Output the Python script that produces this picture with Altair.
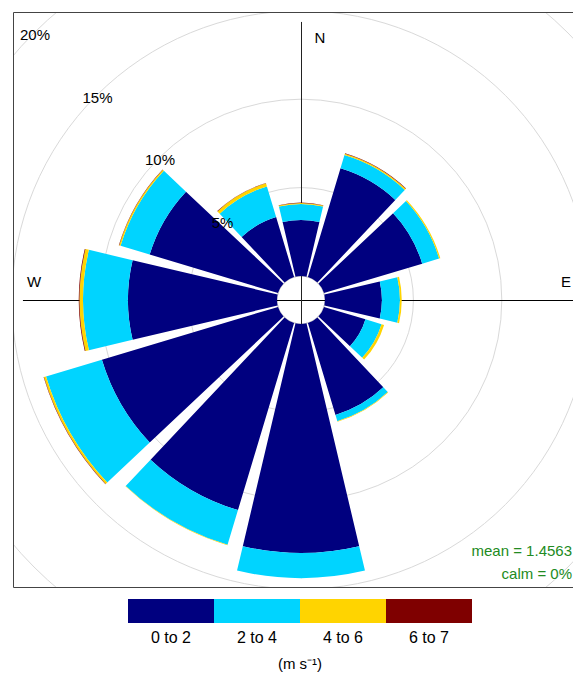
import math
import altair as alt
import pandas as pd

# ---------------- data ----------------
directions = [0, 30, 60, 90, 120, 150, 180, 210, 240, 270, 300, 330]
band_labels = ["0 to 2", "2 to 4", "4 to 6", "6 to 7"]
band_colors = ["#00007F", "#00D4FF", "#FFD400", "#7F0000"]
speed_0_2 = [3.17, 6.42, 5.80, 3.22, 2.45, 5.43, 12.95, 11.05, 10.40, 8.43, 7.58, 3.54]
speed_2_4 = [0.90, 0.78, 1.00, 1.02, 0.95, 0.37, 1.42, 2.05, 3.30, 2.54, 1.72, 1.81]
speed_4_6 = [0.06, 0.08, 0.07, 0.10, 0.15, 0.03, 0.00, 0.02, 0.12, 0.20, 0.08, 0.18]
speed_6_7 = [0.02, 0.03, 0.00, 0.00, 0.00, 0.00, 0.00, 0.00, 0.02, 0.04, 0.02, 0.02]
ring_values = [5, 10, 15, 20]
ring_labels = ["5%", "10%", "15%", "20%"]
mean_text = "mean = 1.4563"
calm_text = "calm = 0%"
unit_label = "(m s⁻¹)"

# ---------------- layout ----------------
W, H = 560, 575
CX, CY = 288, 288
HALF = 13.3                     # half angular width of a wedge (deg)
R0, K = 24, 17.68               # hole radius (px) and px per percent
FONT = "Liberation Sans"

theta_scale = alt.Scale(domain=[0, 360], range=[0, 2 * math.pi])
radius_scale = alt.Scale(type="linear", domain=[0, 20], range=[R0, R0 + K * 20], zero=False)

bands = [speed_0_2, speed_2_4, speed_4_6, speed_6_7]
rows = []
for j, d in enumerate(directions):
    cum = 0.0
    for b, lab in enumerate(band_labels):
        v = bands[b][j]
        if v > 0:
            rows.append({"dir": d, "band": lab, "t1": d - HALF, "t2": d + HALF,
                         "r1": cum, "r2": cum + v})
        cum += v
wedges_df = pd.DataFrame(rows)
max_total = max(sum(b[j] for b in bands) for j in range(len(directions)))

color_scale = alt.Scale(domain=band_labels, range=band_colors)

rings = alt.Chart(pd.DataFrame({"r": ring_values})).mark_arc(
    filled=False, stroke="#d9d9d9", strokeWidth=1, clip=True
).encode(
    theta=alt.value(0), theta2=alt.value(2 * math.pi),
    radius=alt.Radius("r:Q", scale=radius_scale, stack=None),
    x=alt.value(CX), y=alt.value(CY),
)

L = R0 + K * max_total
one = pd.DataFrame({"a": [0]})
hline = alt.Chart(one).mark_rule(color="black", strokeWidth=1).encode(
    x=alt.value(CX - L), x2=alt.value(CX + L), y=alt.value(CY + 0.5))
vline = alt.Chart(one).mark_rule(color="#222", strokeWidth=1).encode(
    x=alt.value(CX + 0.5), y=alt.value(CY - L), y2=alt.value(CY + L))

wedges = alt.Chart(wedges_df).mark_arc().encode(
    theta=alt.Theta("t1:Q", scale=theta_scale, stack=None),
    theta2="t2:Q",
    radius=alt.Radius("r1:Q", scale=radius_scale, stack=None),
    radius2="r2:Q",
    color=alt.Color("band:N", scale=color_scale, legend=None),
    x=alt.value(CX), y=alt.value(CY),
)

ring_text = alt.Chart(pd.DataFrame({"r": ring_values, "label": ring_labels, "t": [315] * 4})).mark_text(
    font=FONT, fontSize=15, color="black", align="center", baseline="middle", dx=1, dy=2
).encode(
    theta=alt.Theta("t:Q", scale=theta_scale, stack=None),
    radius=alt.Radius("r:Q", scale=radius_scale, stack=None),
    text="label:N",
    x=alt.value(CX), y=alt.value(CY),
)

def label(txt, x, y, size=15, color="black", align="center"):
    return alt.Chart(pd.DataFrame({"t": [txt]})).mark_text(
        font=FONT, fontSize=size, color=color, align=align, baseline="middle"
    ).encode(text="t:N", x=alt.value(x), y=alt.value(y))

compass = [label("N", 307, 26), label("E", 553, 270), label("W", 21, 270)]
stats = [label(mean_text, 559, 539, 15, "#228B22", "right"),
         label(calm_text, 559, 562, 15, "#228B22", "right")]

border = alt.Chart(one).mark_rect(
    fill="transparent", stroke="#444", strokeWidth=1
).encode(x=alt.value(0.5), x2=alt.value(W + 20), y=alt.value(0.5), y2=alt.value(H + 0.5))

leg_df = pd.DataFrame({"band": band_labels, "i": [0, 1, 2, 3], "i2": [1, 2, 3, 4],
                       "mid": [0.5, 1.5, 2.5, 3.5]})
leg_x = alt.Scale(domain=[0, 4], range=[115, 459])
leg_rect = alt.Chart(leg_df).mark_rect().encode(
    x=alt.X("i:Q", scale=leg_x, axis=None), x2="i2:Q",
    y=alt.value(587), y2=alt.value(611),
    color=alt.Color("band:N", scale=color_scale, legend=None),
)
leg_text = alt.Chart(leg_df).mark_text(font=FONT, fontSize=16, color="black", baseline="middle").encode(
    x=alt.X("mid:Q", scale=leg_x, axis=None), y=alt.value(626), text="band:N")
unit = label(unit_label, 287, 652, 15)

chart = alt.layer(
    rings, hline, vline, wedges, ring_text, *compass, *stats, border, leg_rect, leg_text, unit
).properties(
    width=W, height=H,
    autosize=alt.AutoSizeParams(type="none"),
    padding={"left": 5, "top": 4, "right": 0, "bottom": 87},
).configure_view(stroke=None)

chart.save("out.html", embed_options={"renderer": "svg", "actions": False})
